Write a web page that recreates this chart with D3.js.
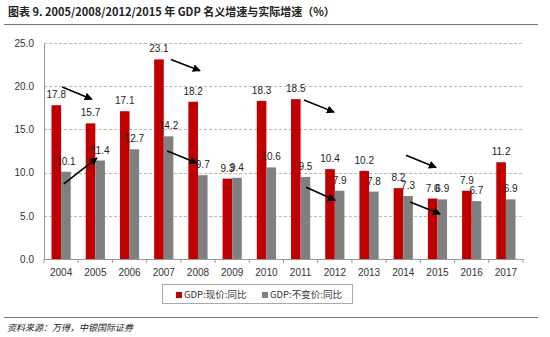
<!DOCTYPE html>
<html>
<head>
<meta charset="utf-8">
<script src="https://cdn.jsdelivr.net/npm/d3@7"></script>
<style>
  body { margin: 0; background: #fff; }
  svg { display: block; }
</style>
</head>
<body>
<div id="my_dataviz"></div>
<script>
const years = ["2004","2005","2006","2007","2008","2009","2010","2011","2012","2013","2014","2015","2016","2017"];
const nominal = [17.8,15.7,17.1,23.1,18.2,9.3,18.3,18.5,10.4,10.2,8.2,7.0,7.9,11.2];
const real = [10.1,11.4,12.7,14.2,9.7,9.4,10.6,9.5,7.9,7.8,7.3,6.9,6.7,6.9];
const yTicks = [0,5,10,15,20,25];
const seriesNames = ["GDP:现价:同比", "GDP:不变价:同比"];
const seriesColors = ["#C00000", "#808080"];
// arrows: [x0, y0, x1, y1] in category units / percent
const arrows = [
  [0.53,19.9,1.40,18.5],
  [3.71,23.1,4.56,21.8],
  [3.60,12.5,4.47,11.1],
  [0.58,8.7,1.55,11.7],
  [7.60,18.4,8.48,17.0],
  [10.58,12.0,11.46,10.6],
  [7.66,8.3,8.51,6.8],
  [10.70,6.6,11.58,5.2]
];

const width = 550, height = 337;
const margin = {top: 43, left: 44, right: 27, bottom: 78};
const chartW = width - margin.left - margin.right;
const chartH = height - margin.top - margin.bottom;
const latin = "'Liberation Sans', Arial, sans-serif";
const cjk = "'Noto Sans CJK SC', sans-serif";

const svg = d3.select("#my_dataviz").append("svg")
  .attr("width", width).attr("height", height);

// title
svg.append("text")
  .attr("x", 8).attr("y", 16)
  .attr("font-family", cjk)
  .attr("font-size", 11).attr("font-weight", "bold")
  .attr("fill", "#222")
  .text("图表 9. 2005/2008/2012/2015 年 GDP 名义增速与实际增速（%）");
svg.append("line").attr("x1", 4).attr("x2", 538).attr("y1", 24.5).attr("y2", 24.5)
  .attr("stroke", "#777").attr("stroke-width", 1);

const g = svg.append("g").attr("transform", `translate(${margin.left},${margin.top})`);

const x = d3.scaleBand().domain(years).range([0, chartW]).paddingInner(0).paddingOuter(0);
const xc = d3.scaleLinear().domain([0, years.length]).range([0, chartW]);
const y = d3.scaleLinear().domain([0, 25]).range([chartH, 0]);

// grid
g.selectAll(".grid").data(yTicks.filter(d => d > 0)).join("line")
  .attr("x1", 0).attr("x2", chartW)
  .attr("y1", d => Math.round(y(d)) + 0.5).attr("y2", d => Math.round(y(d)) + 0.5)
  .attr("stroke", "#aaa").attr("stroke-dasharray", "3,2").attr("stroke-width", 0.8);

// y axis
const yAxis = g.append("g").call(d3.axisLeft(y).tickValues(yTicks).tickFormat(d3.format(".1f")).tickSize(0).tickPadding(10));
yAxis.select(".domain").attr("stroke", "#999");
yAxis.selectAll("text").attr("font-family", latin).attr("font-size", 10).attr("fill", "#333");

// x axis
const xAxis = g.append("g").attr("transform", `translate(0,${chartH})`)
  .call(d3.axisBottom(x).tickSize(0).tickPadding(10));
xAxis.select(".domain").attr("stroke", "#999");
xAxis.selectAll("text").attr("font-family", latin).attr("font-size", 10).attr("fill", "#333");
g.selectAll(".xtick").data(d3.range(years.length + 1)).join("line")
  .attr("x1", d => xc(d)).attr("x2", d => xc(d))
  .attr("y1", chartH).attr("y2", chartH + 4)
  .attr("stroke", "#999");

const bw = 9.6;
const barData = [];
years.forEach((yr, i) => {
  barData.push({year: yr, v: nominal[i], s: 0});
  barData.push({year: yr, v: real[i], s: 1});
});
const bx = d => x(d.year) + x.bandwidth() / 2 + (d.s === 0 ? -bw : 0);

g.selectAll(".bar").data(barData).join("rect")
  .attr("x", bx).attr("width", bw)
  .attr("y", d => y(d.v)).attr("height", d => chartH - y(d.v))
  .attr("fill", d => seriesColors[d.s]);

g.selectAll(".lbl").data(barData).join("text")
  .attr("x", d => bx(d) + bw / 2)
  .attr("y", d => y(d.v) - 7)
  .attr("text-anchor", "middle")
  .attr("font-family", latin).attr("font-size", 10).attr("fill", "#222")
  .text(d => d.v.toFixed(1));

// arrows
svg.append("defs").append("marker")
  .attr("id", "ah").attr("viewBox", "0 0 10 10").attr("refX", 9).attr("refY", 5)
  .attr("markerWidth", 5).attr("markerHeight", 5).attr("orient", "auto")
  .append("path").attr("d", "M0,0 L10,5 L0,10 Z").attr("fill", "#000");
g.selectAll(".arr").data(arrows).join("line")
  .attr("x1", d => xc(d[0])).attr("y1", d => y(d[1]))
  .attr("x2", d => xc(d[2])).attr("y2", d => y(d[3]))
  .attr("stroke", "#000").attr("stroke-width", 1.6)
  .attr("marker-end", "url(#ah)");

// legend
const lg = svg.append("g");
lg.append("rect").attr("x", 162.5).attr("y", 284.5).attr("width", 190).attr("height", 19)
  .attr("fill", "#fff").attr("stroke", "#aaa");
const items = [{x: 176}, {x: 262}];
items.forEach((it, i) => {
  lg.append("rect").attr("x", it.x).attr("y", 292).attr("width", 6).attr("height", 6)
    .attr("fill", seriesColors[i]);
  lg.append("text").attr("x", it.x + 8).attr("y", 298)
    .attr("font-family", cjk).attr("font-size", 9.5).attr("fill", "#333")
    .text(seriesNames[i]);
});

// footer
svg.append("line").attr("x1", 4).attr("x2", 538).attr("y1", 317.5).attr("y2", 317.5)
  .attr("stroke", "#777").attr("stroke-width", 1);
svg.append("text").attr("x", 7).attr("y", 331)
  .attr("font-family", cjk).attr("font-size", 9).attr("font-style", "italic").attr("fill", "#222")
  .text("资料来源：万得，中银国际证券");
</script>
</body>
</html>
